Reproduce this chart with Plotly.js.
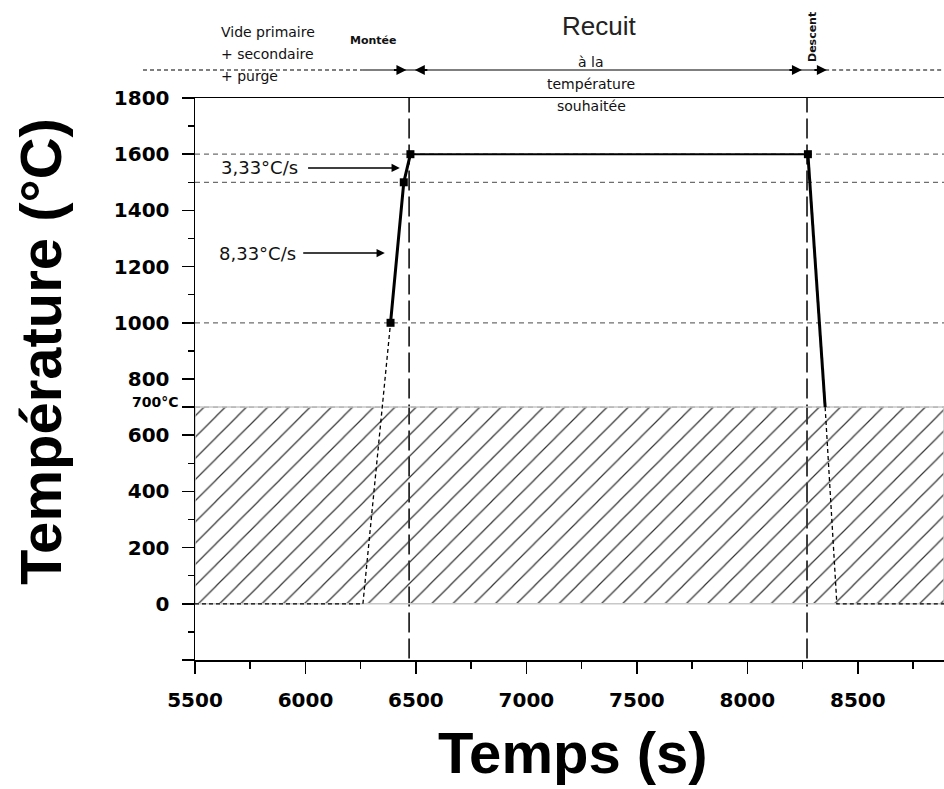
<!DOCTYPE html>
<html>
<head>
<meta charset="utf-8">
<script src="https://cdn.plot.ly/plotly-3.0.1.min.js"></script>
<style>html,body{margin:0;padding:0;background:#fff;}</style>
</head>
<body>
<div id="chart" style="width:944px;height:789px;"></div>
<script>
// ---- data ----
const xRange = [5500, 8890];
const yRange = [-200, 1800];
const xTickVals = [5500, 6000, 6500, 7000, 7500, 8000, 8500];
const yTickVals = [-200, 0, 200, 400, 600, 700, 800, 1000, 1200, 1400, 1600, 1800];
const yTickText = ['', '0', '200', '400', '600', '', '800', '1000', '1200', '1400', '1600', '1800'];

// solid temperature profile (heating ramp, plateau, cooling)
const rampX = [6385, 6445, 6475];
const rampY = [1000, 1500, 1600];
const plateauX = [6475, 8274];
const plateauY = [1600, 1600];
const descentX = [8274, 8352];
const descentY = [1600, 700];
// dotted extrapolations below 1000 / 700 °C
const preX = [5500, 6260, 6385];
const preY = [0, 0, 1000];
const postX = [8352, 8405, 8890];
const postY = [700, 0, 0];
// measured points
const markerX = [6385, 6445, 6475, 8274];
const markerY = [1000, 1500, 1600, 1600];
// hatched zone (< 700 °C)
const hatchX = [5500, 8890, 8890, 5500, 5500];
const hatchY = [0, 0, 700, 700, 0];
// reference levels and phase limits
const refLevels = [1600, 1500, 1000, 700];
const phaseLimits = [6469, 8270];
// rate labels
const rateLabels = ['3,33°C/s', '8,33°C/s'];
const rateY = [1551, 1248];
const rateTailX = [6005, 5983];
const rateTipX = [6427, 6359];
const rateTextX = [5975, 5966];
// timeline (top) breakpoints
const timelineDashEnd = 6260;
const timelineSolidEnd = 8352;

// ---- helpers ----
const L = 195, T = 98, W = 749, H = 562;
const px2paperX = p => (p - L) / W;
const px2paperY = p => (T + H - p) / H;
const x2paper = v => (v - xRange[0]) / (xRange[1] - xRange[0]);

const black = '#000';
const dashGray = '#6e6e6e';
const fontPlain = 'DejaVu Sans, Liberation Sans, Arial, sans-serif';
const fontTitle = 'Liberation Sans, Arial, sans-serif';

const traces = [
  {x: hatchX, y: hatchY, type: 'scatter', mode: 'lines', fill: 'toself',
   fillcolor: 'rgba(255,255,255,0)',
   fillpattern: {shape: '/', size: 15, solidity: 0.08, fgcolor: '#333', bgcolor: 'rgba(255,255,255,0)'},
   line: {color: '#c8c8c8', width: 1.5}, hoverinfo: 'skip', showlegend: false},
  {x: preX, y: preY, type: 'scatter', mode: 'lines', line: {color: black, width: 1.3, dash: '4px,3px'}, showlegend: false},
  {x: postX, y: postY, type: 'scatter', mode: 'lines', line: {color: black, width: 1.3, dash: '4px,3px'}, showlegend: false},
  {x: rampX, y: rampY, type: 'scatter', mode: 'lines', line: {color: black, width: 3}, showlegend: false},
  {x: plateauX, y: plateauY, type: 'scatter', mode: 'lines', line: {color: black, width: 2}, showlegend: false},
  {x: descentX, y: descentY, type: 'scatter', mode: 'lines', line: {color: black, width: 3}, showlegend: false},
  {x: markerX, y: markerY, type: 'scatter', mode: 'markers',
   marker: {symbol: 'square', size: 8, color: black}, showlegend: false}
];

const shapes = [];
refLevels.forEach(v => shapes.push({type: 'line', xref: 'paper', yref: 'y', x0: 0, x1: 1, y0: v, y1: v,
  line: {color: dashGray, width: 1.2, dash: '5px,4px'}, layer: 'below'}));
phaseLimits.forEach(v => shapes.push({type: 'line', xref: 'x', yref: 'y', x0: v, x1: v, y0: -195, y1: 1800,
  line: {color: black, width: 1.5, dash: '20px,6px'}, layer: 'below'}));
// timeline above plot
const tlY = px2paperY(70);
shapes.push({type: 'line', xref: 'paper', yref: 'paper', x0: px2paperX(143), x1: x2paper(timelineDashEnd), y0: tlY, y1: tlY,
  line: {color: black, width: 1.2, dash: '4px,3px'}});
shapes.push({type: 'line', xref: 'paper', yref: 'paper', x0: x2paper(timelineDashEnd), x1: x2paper(timelineSolidEnd), y0: tlY, y1: tlY,
  line: {color: black, width: 1.2}});
shapes.push({type: 'line', xref: 'paper', yref: 'paper', x0: x2paper(timelineSolidEnd), x1: 1, y0: tlY, y1: tlY,
  line: {color: black, width: 1.2, dash: '4px,3px'}});

const annotations = [];
// axis titles
annotations.push({text: 'Température (°C)', xref: 'paper', yref: 'paper', x: px2paperX(40), y: px2paperY(352),
  textangle: -90, showarrow: false, xanchor: 'center', yanchor: 'middle',
  font: {family: fontTitle, size: 58, weight: 'bold', color: black}});
annotations.push({text: 'Temps (s)', xref: 'paper', yref: 'paper', x: px2paperX(573), y: px2paperY(752),
  showarrow: false, xanchor: 'center', yanchor: 'middle',
  font: {family: fontTitle, size: 58, weight: 'bold', color: black}});
// 700°C label
annotations.push({text: '700°C', xref: 'paper', yref: 'y', x: 0, y: 700, xanchor: 'right', yanchor: 'middle',
  xshift: -14, yshift: 5, showarrow: false, font: {family: fontPlain, size: 14, weight: 'bold', color: black}});
// rate labels and arrows
rateLabels.forEach((t, i) => {
  annotations.push({text: t, xref: 'x', yref: 'y', x: rateTextX[i], y: rateY[i], xanchor: 'right', yanchor: 'middle',
    showarrow: false, font: {family: fontPlain, size: 18, color: '#111'}});
  annotations.push({text: '', xref: 'x', yref: 'y', x: rateTipX[i], y: rateY[i], axref: 'x', ayref: 'y',
    ax: rateTailX[i], ay: rateY[i], showarrow: true, arrowhead: 2, arrowsize: 1.1, arrowwidth: 1.5, arrowcolor: black});
});
// top texts
const topFont = {family: fontPlain, size: 14, color: '#111'};
[['Vide primaire', 32], ['+ secondaire', 54], ['+ purge', 76]].forEach(([t, py]) => {
  annotations.push({text: t, xref: 'paper', yref: 'paper', x: px2paperX(219), y: px2paperY(py),
    xanchor: 'left', yanchor: 'middle', showarrow: false, font: topFont});
});
annotations.push({text: 'Montée', xref: 'paper', yref: 'paper', x: px2paperX(373), y: px2paperY(40),
  xanchor: 'center', yanchor: 'middle', showarrow: false, font: {family: fontPlain, size: 11, weight: 'bold', color: '#111'}});
annotations.push({text: 'Recuit', xref: 'paper', yref: 'paper', x: px2paperX(599), y: px2paperY(26),
  xanchor: 'center', yanchor: 'middle', showarrow: false, font: {family: 'Liberation Sans, Arial, sans-serif', size: 26, color: '#222'}});
[['à la', 62], ['température', 84], ['souhaitée', 106]].forEach(([t, py]) => {
  annotations.push({text: t, xref: 'paper', yref: 'paper', x: px2paperX(591), y: px2paperY(py),
    xanchor: 'center', yanchor: 'middle', showarrow: false, font: topFont});
});
annotations.push({text: 'Descent', xref: 'paper', yref: 'paper', x: px2paperX(812), y: px2paperY(37),
  textangle: -90, xanchor: 'center', yanchor: 'middle', showarrow: false,
  font: {family: fontPlain, size: 11, weight: 'bold', color: '#111'}});
// timeline arrowheads
[[6457, -14], [6495, 14], [8247, -14], [8360, -14]].forEach(([xv, axp]) => {
  annotations.push({text: '', xref: 'x', yref: 'paper', x: xv, y: tlY, ax: axp, ay: 0,
    showarrow: true, arrowhead: 2, arrowsize: 1, arrowwidth: 2, arrowcolor: black});
});

const tickFont = {family: 'DejaVu Sans, Arial, sans-serif', size: 20, weight: 'bold', color: black};

const layout = {
  width: 944, height: 789,
  margin: {l: L, r: 0, t: T, b: 789 - T - H},
  paper_bgcolor: '#fff', plot_bgcolor: '#fff',
  showlegend: false,
  xaxis: {range: xRange, tickmode: 'array', tickvals: xTickVals, ticks: 'outside', ticklen: 12, tickwidth: 1.5,
    tickcolor: black, showline: true, linecolor: black, linewidth: 1.5, mirror: true,
    showgrid: false, zeroline: false, tickfont: tickFont, ticklabelstandoff: 9,
    minor: {tickmode: 'linear', tick0: 5500, dtick: 250, ticks: 'outside', ticklen: 7, tickwidth: 1.5, tickcolor: black, showgrid: false}},
  yaxis: {range: yRange, tickmode: 'array', tickvals: yTickVals, ticktext: yTickText, ticks: 'outside', ticklen: 12,
    tickwidth: 1.5, tickcolor: black, showline: true, linecolor: black, linewidth: 1.5, mirror: false,
    showgrid: false, zeroline: false, tickfont: tickFont, ticklabelstandoff: 8,
    minor: {tickmode: 'linear', tick0: 0, dtick: 100, ticks: 'outside', ticklen: 6, tickwidth: 1.5, tickcolor: black, showgrid: false}},
  shapes: shapes,
  annotations: annotations
};

Plotly.newPlot('chart', traces, layout, {staticPlot: true, displayModeBar: false});
</script>
</body>
</html>
